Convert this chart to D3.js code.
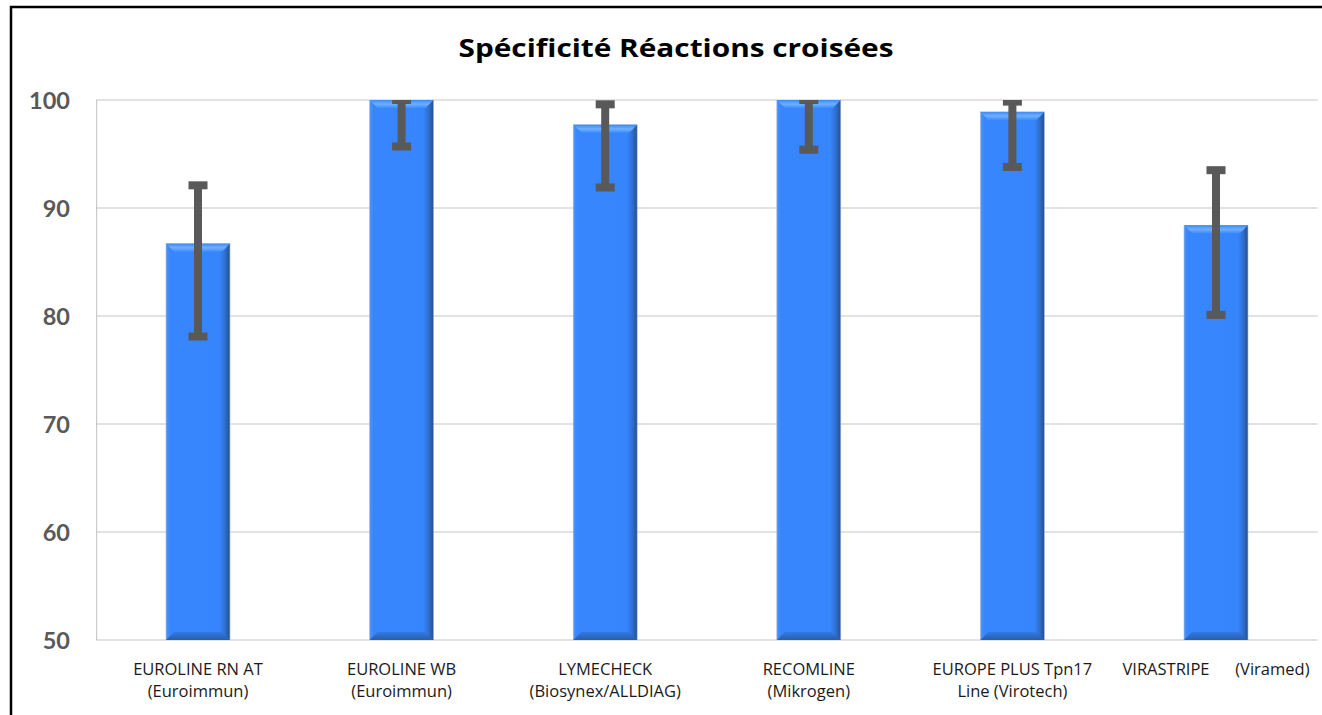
<!DOCTYPE html>
<html><head><meta charset="utf-8">
<script src="https://cdn.jsdelivr.net/npm/d3@7"></script>
<style>html,body{margin:0;padding:0;background:#fff;overflow:hidden}svg{display:block}</style>
</head><body>
<svg id="chart" width="1322" height="715"></svg>
<script>
const title = "Spécificité Réactions croisées";
const categories = [
  ["EUROLINE RN AT", "(Euroimmun)"],
  ["EUROLINE WB", "(Euroimmun)"],
  ["LYMECHECK", "(Biosynex/ALLDIAG)"],
  ["RECOMLINE", "(Mikrogen)"],
  ["EUROPE PLUS Tpn17", "Line (Virotech)"],
  ["VIRASTRIPE      (Viramed)"]
];
const values = [86.7, 100, 97.7, 100, 98.9, 88.4];
const errLow = [78.1, 95.7, 91.9, 95.4, 93.8, 80.1];
const errHigh = [92.1, 100, 99.6, 100, 99.85, 93.5];
const yTicks = [50, 60, 70, 80, 90, 100];

const svg = d3.select("#chart");
const W = 1322, H = 715;
const m = {left: 96.2, right: 1317.8, top: 100, bottom: 640};

const defs = svg.append("defs");
const hg = defs.append("linearGradient").attr("id","barH").attr("x1","0").attr("x2","1").attr("y1","0").attr("y2","0");
hg.append("stop").attr("offset","0").attr("stop-color","#4d95fb");
hg.append("stop").attr("offset","0.06").attr("stop-color","#3886fd");
hg.append("stop").attr("offset","0.84").attr("stop-color","#3685fc");
hg.append("stop").attr("offset","0.92").attr("stop-color","#2f70d2");
hg.append("stop").attr("offset","1").attr("stop-color","#26508c");
const tg = defs.append("linearGradient").attr("id","barTop").attr("x1","0").attr("x2","0").attr("y1","0").attr("y2","1");
tg.append("stop").attr("offset","0").attr("stop-color","#3a88fb");
tg.append("stop").attr("offset","0.5").attr("stop-color","#6fb0ff");
tg.append("stop").attr("offset","1").attr("stop-color","#3f8cfd");
const bg = defs.append("linearGradient").attr("id","barBot").attr("x1","0").attr("x2","0").attr("y1","0").attr("y2","1");
bg.append("stop").attr("offset","0").attr("stop-color","#3279e6");
bg.append("stop").attr("offset","1").attr("stop-color","#2a5ea8");
defs.append("clipPath").attr("id","plotClip").append("rect")
  .attr("x", m.left).attr("y", m.top).attr("width", m.right - m.left).attr("height", m.bottom - m.top);

svg.append("rect").attr("x",0).attr("y",0).attr("width",W).attr("height",H).attr("fill","#fff");
// outer border (top and left edges visible)
svg.append("path").attr("d", `M11,${H} L11,7 L${W},7`)
  .attr("fill","none").attr("stroke","#000").attr("stroke-width",2.5);

const x = d3.scaleBand().domain(d3.range(categories.length)).range([m.left, m.right])
  .paddingInner(0.686).paddingOuter(0.343);
const y = d3.scaleLinear().domain([50, 100]).range([m.bottom, m.top]);

// gridlines
svg.append("g").selectAll("line").data(yTicks).join("line")
  .attr("x1", m.left).attr("x2", m.right)
  .attr("y1", d => y(d)).attr("y2", d => y(d))
  .attr("stroke", "#d9d9d9").attr("stroke-width", 1.3);
// y axis line
svg.append("line").attr("x1", m.left+0.5).attr("x2", m.left+0.5).attr("y1", m.top).attr("y2", m.bottom)
  .attr("stroke", "#bfbfbf").attr("stroke-width", 1);

// y labels via axis
const yAxis = svg.append("g").attr("transform", `translate(70,0)`)
  .call(d3.axisLeft(y).tickValues(yTicks).tickSize(0).tickPadding(0));
yAxis.select(".domain").remove();
yAxis.selectAll("text").attr("fill", "#595959").style("font-family", "Lato, 'Open Sans', sans-serif")
  .style("font-weight", "bold").style("font-size", "23.5px").attr("dy", "0.35em");

// bars
const bars = svg.append("g").attr("clip-path", "url(#plotClip)");
const bw = x.bandwidth();
const bev = 8;
values.forEach((v, i) => {
  const x0 = x(i), x1 = x(i) + bw, yt = y(v), yb = y(50);
  const g = bars.append("g");
  g.append("rect").attr("x", x0).attr("y", yt).attr("width", bw).attr("height", yb - yt)
    .attr("fill", "url(#barH)").attr("stroke", "#9fb7d9").attr("stroke-width", 0.6);
  g.append("polygon").attr("points", `${x0},${yt} ${x1},${yt} ${x1-bev},${yt+bev} ${x0+bev},${yt+bev}`)
    .attr("fill", "url(#barTop)");
  g.append("polygon").attr("points", `${x0+bev},${yb-bev} ${x1-bev},${yb-bev} ${x1},${yb} ${x0},${yb}`)
    .attr("fill", "url(#barBot)");
});

// error bars
const eg = svg.append("g").attr("clip-path", "url(#plotClip)");
const capW = 19, capH = 8, stemW = 8;
values.forEach((v, i) => {
  const cx = x(i) + bw / 2;
  eg.append("line").attr("x1", cx).attr("x2", cx).attr("y1", y(errHigh[i])).attr("y2", y(errLow[i]))
    .attr("stroke", "#595959").attr("stroke-width", stemW);
  [errHigh[i], errLow[i]].forEach(e => {
    eg.append("rect").attr("x", cx - capW / 2).attr("y", y(e) - capH / 2).attr("width", capW).attr("height", capH)
      .attr("fill", "#595959");
  });
});

// x labels
const xl = svg.append("g");
categories.forEach((lines, i) => {
  const cx = x(i) + bw / 2;
  const t = xl.append("text").attr("x", cx).attr("y", 675).attr("text-anchor", "middle")
    .attr("fill", "#1a1a1a").style("font-family", "'Open Sans', Lato, sans-serif").style("font-size", "16.5px")
    .attr("xml:space","preserve").style("white-space","pre");
  lines.forEach((l, j) => {
    t.append("tspan").attr("x", cx).attr("y", 675 + j * 22).text(l);
  });
  const bb = t.node().getBBox();
  if (bb.x + bb.width > 1313) {
    const shift = bb.x + bb.width - 1313;
    t.selectAll("tspan").attr("x", cx - shift);
  }
});

// title
svg.append("text").attr("x", 676).attr("y", 57).attr("text-anchor", "middle")
  .attr("fill", "#000").style("font-family", "'Open Sans', Lato, sans-serif").style("font-weight", "bold")
  .style("font-size", "25px").attr("textLength", 435).attr("lengthAdjust", "spacingAndGlyphs").text(title);
</script>
</body></html>
